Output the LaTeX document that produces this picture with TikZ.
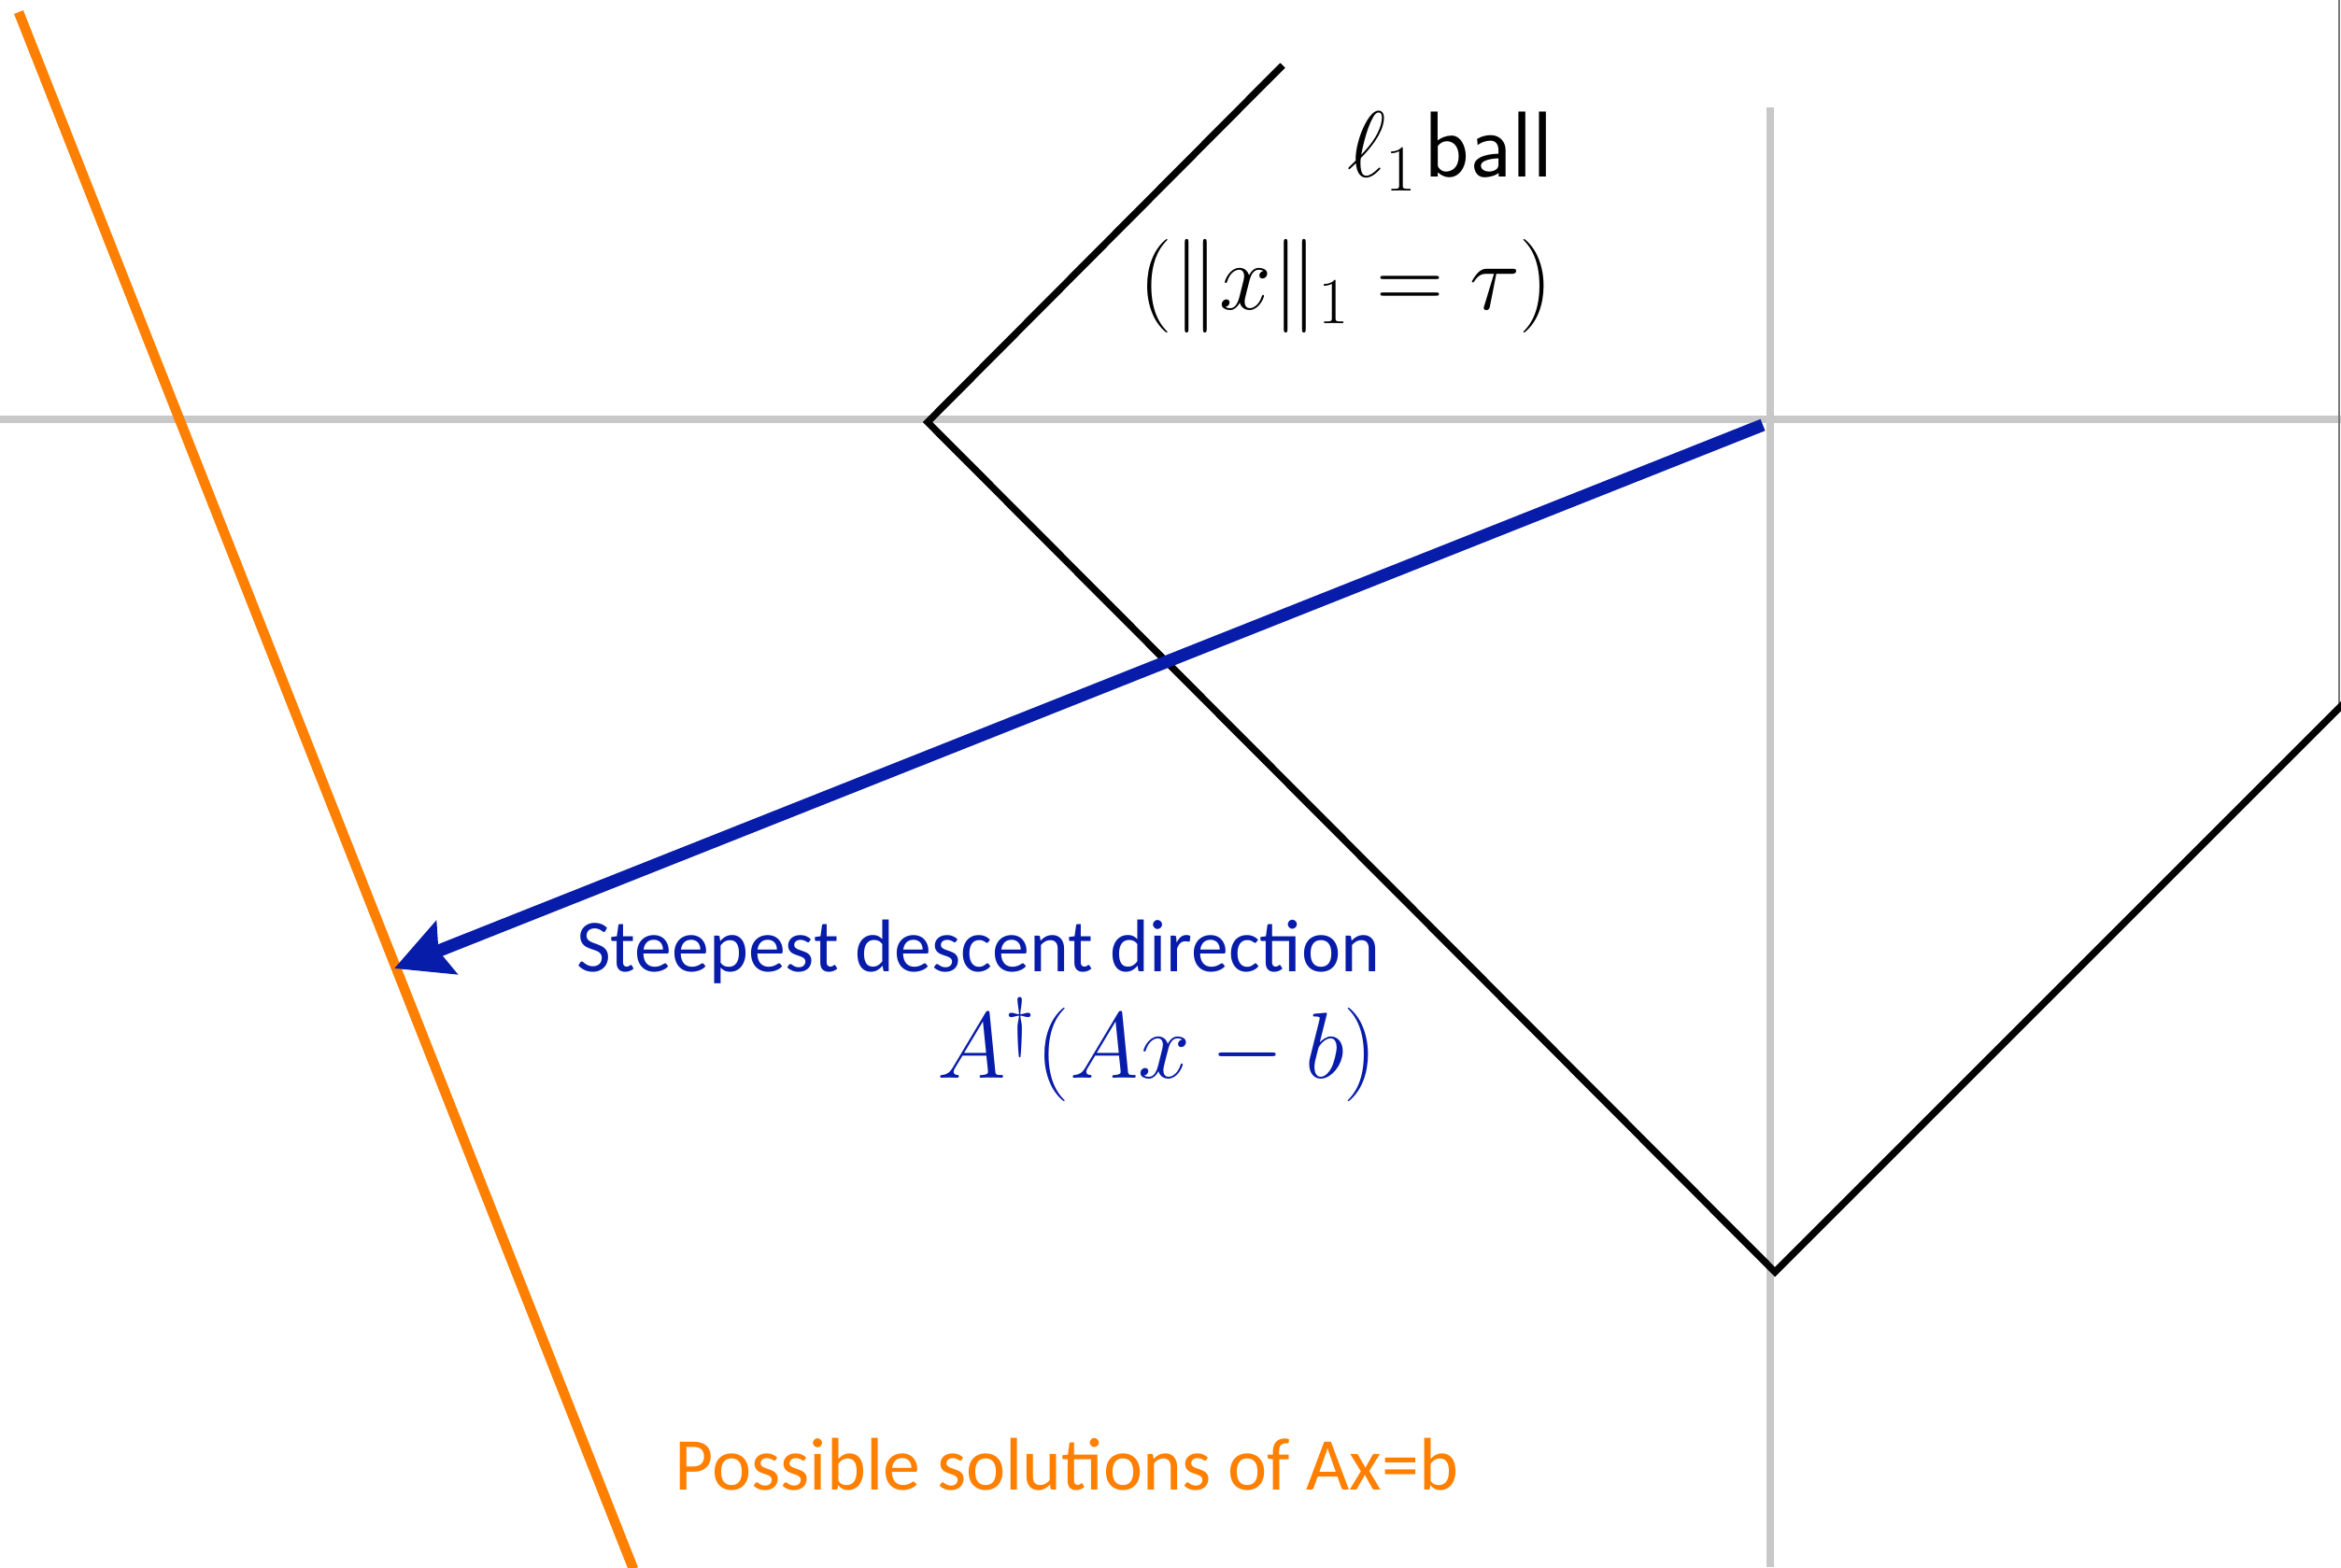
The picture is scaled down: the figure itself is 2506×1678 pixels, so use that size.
\RequirePackage{fix-cm}
\documentclass[tikz,border=0pt]{standalone}
\usepackage{fontspec}
\newfontfamily\calibri{Carlito}
\usetikzlibrary{arrows.meta}
\definecolor{axisgray}{RGB}{200,200,200}
\definecolor{edgegray}{RGB}{120,120,120}
\definecolor{dirblue}{RGB}{8,28,170}
\definecolor{solorange}{RGB}{255,128,0}
\begin{document}
\begin{tikzpicture}[x=0.01cm,y=-0.01cm,
  axisline/.style={draw=axisgray,line width=2.5pt},
  ballline/.style={draw=black,line width=2.1pt,line join=miter},
  solline/.style={draw=solorange,line width=3pt},
  dirarrow/.style={draw=dirblue,line width=3.8pt,-{Stealth[length=17pt,width=17pt,inset=2.5pt]}},
  bigmath/.style={inner sep=0pt,font=\fontsize{28.5}{34}\selectfont},
  labeltext/.style={inner sep=0pt,font=\calibri\fontsize{22.7}{27}\selectfont}]
\useasboundingbox[fill=white] (0,0) rectangle (2506,1678);
% axes
\coordinate (hL) at (0,449);
\coordinate (hR) at (2506,449);
\coordinate (vT) at (1895,115);
\coordinate (vB) at (1895,1678);
\draw[axisline] (hL) -- (hR);
\draw[axisline] (vT) -- (vB);
% right edge line
\coordinate (eT) at (2504,0);
\coordinate (eB) at (2504,757);
\draw[draw=edgegray,line width=0.6pt] (eT) -- (eB);
% l1 ball
\coordinate (bTop) at (1373,70);
\coordinate (bLeft) at (993,452);
\coordinate (bBot) at (1900,1362);
\coordinate (bRight) at (2510,752);
\draw[ballline] (bTop) -- (bLeft) -- (bBot) -- (bRight);
% solutions line
\coordinate (sTop) at (20,13);
\coordinate (sBot) at (678,1680);
\draw[solline] (sTop) -- (sBot);
% steepest descent arrow
\coordinate (aStart) at (1887,455);
\coordinate (aTip) at (422,1037);
\draw[dirarrow] (aStart) -- (aTip);
% labels
\node[bigmath,anchor=base east] (ballT) at (1664,189) {$\ell_1$\kern2pt\textsf{ball}};
\node[bigmath,anchor=base east] (normT) at (1663,331) {$(\|x\|_1=\tau)$};
\node[labeltext,text=dirblue,anchor=base east] (dirT) at (1478,1040) {Steepest descent direction};
\node[bigmath,text=dirblue,anchor=base east] (gradT) at (1475,1154) {$A^\dagger(Ax-b)$};
\node[labeltext,text=solorange,anchor=base west] (solT) at (722,1595) {Possible solutions of Ax=b};
\end{tikzpicture}
\end{document}
